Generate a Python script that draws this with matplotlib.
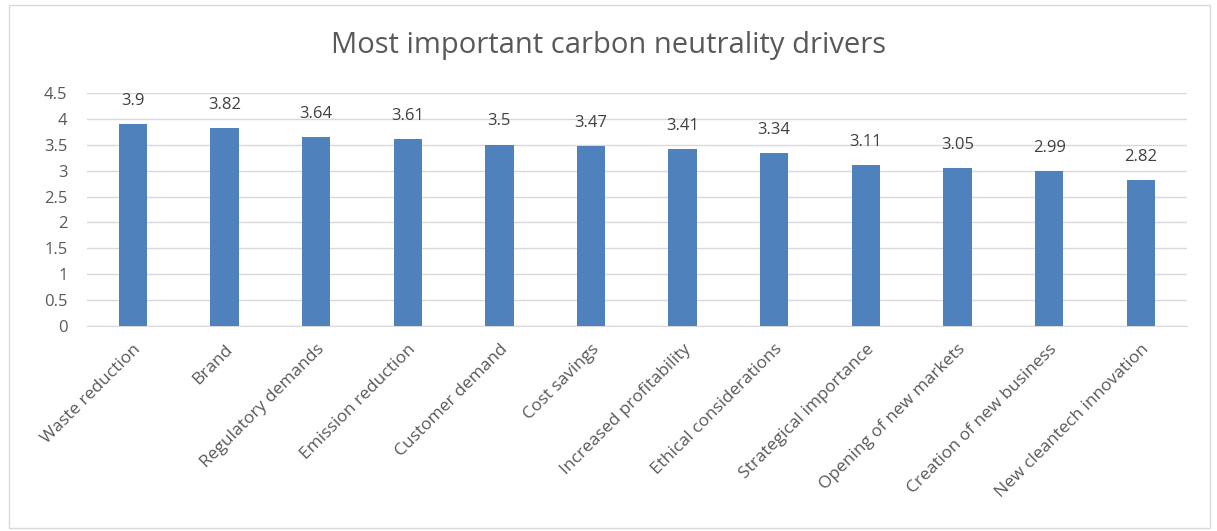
import matplotlib.pyplot as plt
from matplotlib.patches import Rectangle

drivers = ["Waste reduction", "Brand", "Regulatory demands", "Emission reduction",
           "Customer demand", "Cost savings", "Increased profitability",
           "Ethical considerations", "Strategical importance",
           "Opening of new markets", "Creation of new business",
           "New cleantech innovation"]
scores = [3.9, 3.82, 3.64, 3.61, 3.5, 3.47, 3.41, 3.34, 3.11, 3.05, 2.99, 2.82]
yticks = [0, 0.5, 1, 1.5, 2, 2.5, 3, 3.5, 4, 4.5]

plt.rcParams['font.family'] = ['Open Sans', 'DejaVu Sans']
txt = '#595959'

fig = plt.figure(figsize=(12.17, 5.31), dpi=100)
ax = fig.add_axes([0.0715, 0.386, 0.9035, 0.439])

# chart frame
fig.patches.append(Rectangle((0.007, 0.006), 0.987, 0.985, transform=fig.transFigure,
                             fill=False, edgecolor='#d9d9d9', linewidth=1))

x = range(len(drivers))
bars = ax.bar(x, scores, width=0.31, color='#4f81bd', zorder=3)
for xi, v in zip(x, scores):
    ax.annotate(f"{v:g}", (xi, v), xytext=(0, 11), textcoords='offset points',
                ha='center', va='bottom', fontsize=12, color='#404040')

ax.set_xlim(-0.5, len(drivers) - 0.5)
ax.set_ylim(0, 4.5)
ax.set_yticks(yticks)
ax.set_yticklabels([f"{t:g}" for t in yticks], fontsize=12, color=txt)
ax.set_xticks(list(x))
ax.set_xticklabels(drivers, rotation=45, ha='right', rotation_mode='anchor',
                   fontsize=12.5, color=txt)
ax.tick_params(axis='both', length=0)
ax.tick_params(axis='y', pad=14)
ax.tick_params(axis='x', pad=11)
ax.grid(axis='y', color='#d9d9d9', linewidth=1, zorder=0)
for s in ['top', 'right', 'left']:
    ax.spines[s].set_visible(False)
ax.spines['bottom'].set_color('#d9d9d9')

fig.text(0.5, 0.915, "Most important carbon neutrality drivers", ha='center',
         va='center', fontsize=21, color=txt)

fig.savefig('out.png', dpi=100)
